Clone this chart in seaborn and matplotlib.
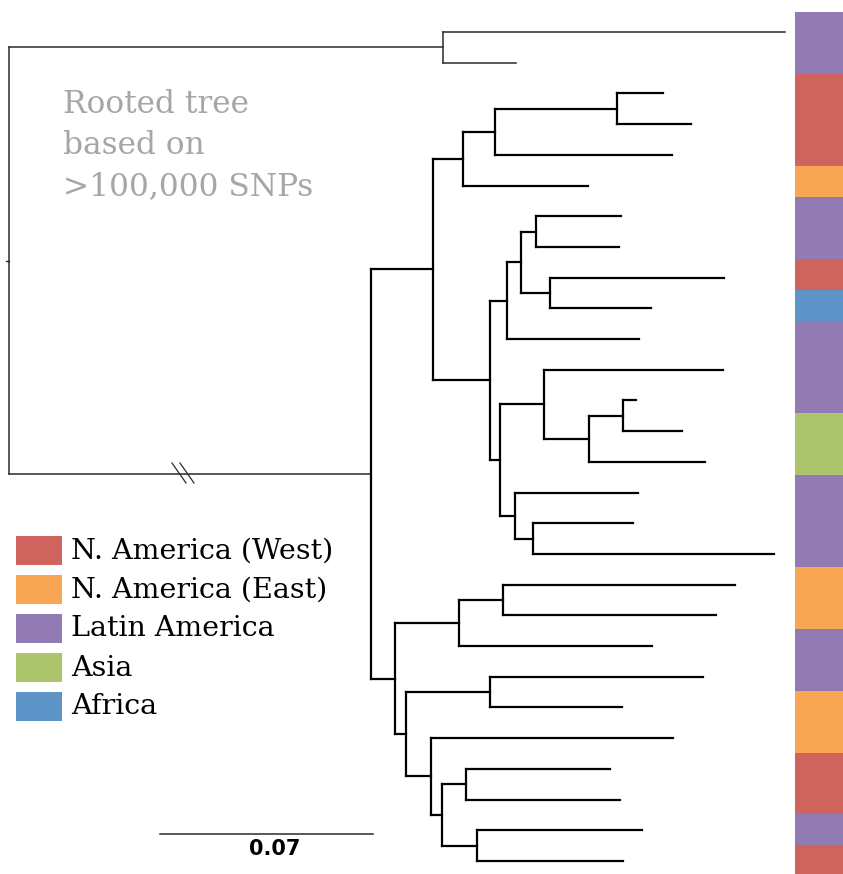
import matplotlib
matplotlib.use("Agg")
import matplotlib.pyplot as plt
from matplotlib.colors import ListedColormap
from matplotlib.patches import Rectangle
import numpy as np
import pandas as pd
import seaborn as sns

# ---------------- data (Newick clades with branch lengths) ----------------
clade_outgroup = "(L1:0.1124,L2:0.0240)"
clade_A1 = "(((L3:0.0151,L4:0.0243):0.0401,L5:0.0582):0.0105,L6:0.0411)"
clade_A21 = "(((L7:0.0279,L8:0.0273):0.0049,(L9:0.0572,L10:0.0332):0.0095):0.0046,L11:0.0434)"
clade_A22 = ("((L12:0.0588,((L13:0.0043,L14:0.0191):0.0112,L15:0.0381):0.0148):0.0145,"
             "(L16:0.0404,(L17:0.0329,L18:0.0792):0.0059):0.0049)")
clade_B1 = "((L19:0.0762,L20:0.0700):0.0145,L21:0.0634)"
clade_B2 = ("((L22:0.0700,L23:0.0434):0.0276,(L24:0.0795,((L25:0.0473,L26:0.0506):0.0079,"
            "(L27:0.0542,L28:0.0480):0.0115):0.0036):0.0082)")
clade_A2 = "(" + clade_A21 + ":0.0056," + clade_A22 + ":0.0033)"
clade_A = "(" + clade_A1 + ":0.0099," + clade_A2 + ":0.0187)"
clade_B = "(" + clade_B1 + ":0.0210," + clade_B2 + ":0.0036)"
clade_ingroup = "(" + clade_A + ":0.0204," + clade_B + ":0.0079)"
tree_newick = "(" + clade_outgroup + ":0.1426," + clade_ingroup + ":0.1190);"

region_names = ["N. America (West)", "N. America (East)", "Latin America", "Asia", "Africa"]
region_colors = ["#CF645E", "#F8A654", "#927BB3", "#ACC46C", "#5E94C8"]
leaf_regions = ["Latin America", "Latin America", "N. America (West)", "N. America (West)",
                "N. America (West)", "N. America (East)", "Latin America", "Latin America",
                "N. America (West)", "Africa", "Latin America", "Latin America",
                "Latin America", "Asia", "Asia", "Latin America", "Latin America",
                "Latin America", "N. America (East)", "N. America (East)", "Latin America",
                "Latin America", "N. America (East)", "N. America (East)",
                "N. America (West)", "N. America (West)", "Latin America", "N. America (West)"]
outgroup_leaves = ["L1", "L2"]
scale_value = 0.07
scale_label = "0.07"
annotation = "Rooted tree\nbased on\n>100,000 SNPs"


# ---------------- newick parsing & layout ----------------
def parse_newick(text):
    s = "".join(text.split()).rstrip(";")
    pos = 0

    def parse():
        nonlocal pos
        node = {"children": [], "name": None, "length": 0.0}
        if s[pos] == "(":
            pos += 1
            while True:
                node["children"].append(parse())
                if s[pos] == ",":
                    pos += 1
                    continue
                if s[pos] == ")":
                    pos += 1
                    break
        start = pos
        while pos < len(s) and s[pos] not in ":,()":
            pos += 1
        node["name"] = s[start:pos] or None
        if pos < len(s) and s[pos] == ":":
            pos += 1
            start = pos
            while pos < len(s) and s[pos] not in ",()":
                pos += 1
            node["length"] = float(s[start:pos])
        return node

    return parse()


root = parse_newick(tree_newick)
counter = [0]


def layout(node, x0):
    node["x"] = x0 + node["length"]
    if not node["children"]:
        node["y"] = counter[0]
        counter[0] += 1
        node["leaves"] = [node["name"]]
    else:
        node["leaves"] = []
        for c in node["children"]:
            layout(c, node["x"])
            node["leaves"] += c["leaves"]
        node["y"] = (node["children"][0]["y"] + node["children"][-1]["y"]) / 2


root["length"] = 0.0
layout(root, 0.0)

rows = []
seg = [0]


def add_segments(node, thin):
    if not node["children"]:
        return
    ys = [c["y"] for c in node["children"]]
    rows.append((seg[0], node["x"], min(ys), thin))
    rows.append((seg[0], node["x"], max(ys), thin))
    seg[0] += 1
    for c in node["children"]:
        c_out = set(c["leaves"]) <= set(outgroup_leaves)
        cthin = thin or c_out or node is root
        rows.append((seg[0], node["x"], c["y"], cthin))
        rows.append((seg[0], c["x"], c["y"], cthin))
        seg[0] += 1
        add_segments(c, c_out)


add_segments(root, True)
df = pd.DataFrame(rows, columns=["seg", "x", "y", "thin"])

# ---------------- figure ----------------
W, H = 843, 874
fig = plt.figure(figsize=(W / 100, H / 100), dpi=100)
ax = fig.add_axes([0, 0, 1, 1])
px_per_unit = 3043.0
x0px = 9.0
y0px, dy = 32.0, 30.7

sns.lineplot(data=df[df.thin], x="x", y="y", units="seg", estimator=None, sort=False,
             color="#2b2b2b", linewidth=1.1, ax=ax, legend=False)
sns.lineplot(data=df[~df.thin], x="x", y="y", units="seg", estimator=None, sort=False,
             color="black", linewidth=1.6, ax=ax, legend=False)
# small root stub
ax.plot([root["x"] - 2.5 / px_per_unit, root["x"]], [root["y"], root["y"]],
        color="#2b2b2b", lw=1.0)
ax.set_xlim(-x0px / px_per_unit, (W - x0px) / px_per_unit)
ax.set_ylim((H - y0px) / dy, -y0px / dy)
ax.axis("off")


def fx(px):
    return px / W


def fy(py):
    return 1 - py / H


# break marks on root branch
for off in (0, 8):
    fig.add_artist(plt.Line2D([fx(172 + off), fx(186 + off)], [fy(463), fy(483)],
                              color="#2b2b2b", lw=0.9))

# scale bar
sb_x0 = (160 - x0px) / px_per_unit
sb_y = (834 - y0px) / dy
ax.plot([sb_x0, sb_x0 + scale_value], [sb_y, sb_y], color="#2b2b2b", lw=1.1)
ax.text(fx(275), fy(849), scale_label, ha="center", va="center",
        fontsize=15, fontweight="bold", family="DejaVu Sans", transform=fig.transFigure)

# annotation
fig.text(fx(63), fy(89), annotation, ha="left", va="top", color="#a6a6a6",
         fontsize=22.5, family="DejaVu Serif", linespacing=1.42)

# legend
for i, (name, col) in enumerate(zip(region_names, region_colors)):
    cy = 550 + 39 * i
    fig.add_artist(Rectangle((fx(16), fy(cy + 14.5)), 46 / W, 29 / H,
                             facecolor=col, edgecolor="none", transform=fig.transFigure))
    fig.text(fx(71), fy(cy + 1), name, ha="left", va="center", fontsize=20.5,
             family="DejaVu Serif", color="black")

# colour strip
strip = fig.add_axes([795 / W, 1 - 876 / H, 48 / W, 864 / H])
codes = np.array([[region_names.index(r)] for r in leaf_regions])
sns.heatmap(codes, cmap=ListedColormap(region_colors), vmin=-0.5, vmax=len(region_names) - 0.5,
            cbar=False, xticklabels=False, yticklabels=False, ax=strip)
strip.axis("off")

fig.savefig("out.png", dpi=100)
